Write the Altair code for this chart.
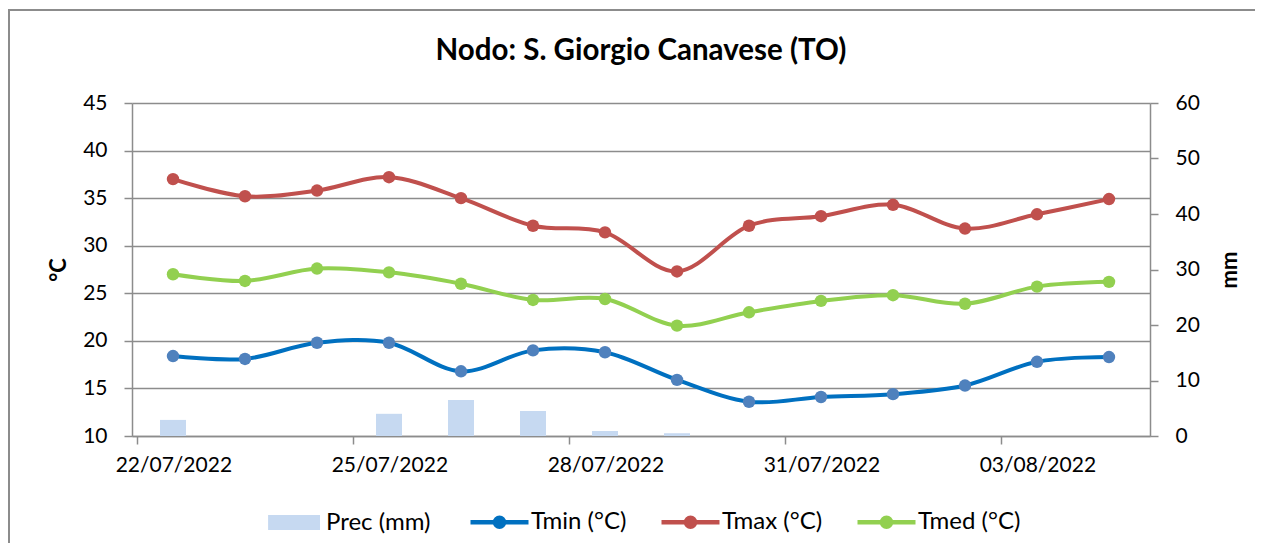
import json
import altair as alt
import pandas as pd

# ---- data ----
dates = ["22/07/2022", "23/07/2022", "24/07/2022", "25/07/2022", "26/07/2022",
         "27/07/2022", "28/07/2022", "29/07/2022", "30/07/2022", "31/07/2022",
         "01/08/2022", "02/08/2022", "03/08/2022", "04/08/2022"]
tmin = [18.4, 18.1, 19.8, 19.8, 16.8, 19.0, 18.8, 15.9, 13.6, 14.1, 14.4, 15.3, 17.8, 18.3]
tmax = [37.0, 35.2, 35.8, 37.2, 35.0, 32.1, 31.4, 27.3, 32.1, 33.1, 34.3, 31.8, 33.3, 34.9]
tmed = [27.0, 26.3, 27.6, 27.2, 26.0, 24.3, 24.4, 21.6, 23.0, 24.2, 24.8, 23.9, 25.7, 26.2]
prec = [2.9, 0, 0, 4.0, 6.5, 4.5, 0.9, 0.5, 0, 0, 0, 0, 0, 0]

prec_name = "Prec (mm)"
series_names = ["Tmin (°C)", "Tmax (°C)", "Tmed (°C)"]
left_ticks = [10, 15, 20, 25, 30, 35, 40, 45]
right_ticks = [0, 10, 20, 30, 40, 50, 60]
label_days = [0, 3, 6, 9, 12]

# ---- styles ----
line_colors = ["#0070C0", "#C0504D", "#92D050"]
marker_colors = ["#4F81BD", "#C0504D", "#92D050"]
bar_color = "#C6D9F1"
grey = "#8C8C8C"
FONT = "Lato"

W, H = 1018, 333
PAD = {"left": 124, "top": 95, "right": 105, "bottom": 107}
day_w = W / len(dates)

day = list(range(len(dates)))
bars_df = pd.DataFrame({"day": day, "date": dates, "value": prec, "series": prec_name})
temps_df = pd.concat(
    [pd.DataFrame({"day": day, "date": dates, "value": vals, "series": name})
     for name, vals in zip(series_names, [tmin, tmax, tmed])],
    ignore_index=True,
)

x_scale = alt.Scale(domain=[-0.5, len(dates) - 0.5], nice=False, zero=False)
x_axis = alt.Axis(
    values=[d - 0.5 for d in label_days],
    labelExpr=f"{json.dumps(dates)}[round(datum.value + 0.5)]",
    labelOffset=day_w / 2,
    labelFlush=False,
    labelOverlap=False,
    labelPadding=10,
    tickSize=8,
    grid=False,
    title=None,
)
left_axis = alt.Axis(
    values=left_ticks, grid=True, orient="left", tickSize=8, labelPadding=17,
    title="°C", titleFontSize=22, titleFontWeight="bold", titleAngle=270,
    titleX=-74, titleY=H / 2, titleAlign="center", titleBaseline="middle",
)
right_axis = alt.Axis(
    values=right_ticks, grid=False, orient="right", tickSize=8, labelPadding=17,
    title="mm", titleFontSize=22, titleFontWeight="bold", titleAngle=270,
    titleX=79, titleY=H / 2, titleAlign="center", titleBaseline="middle",
)

# legend symbols: slot of 58 px ([-1, 1] spans sqrt(size))
rect_path = "M-0.79,-0.26H1V0.26H-0.79Z"
line_path = ("M-1,0H1 "
             "M0.155,0A0.155,0.155,0,1,1,-0.155,0A0.155,0.155,0,1,1,0.155,0Z "
             "M0.052,0A0.052,0.052,0,1,1,-0.052,0A0.052,0.052,0,1,1,0.052,0Z")

bar_legend = alt.Legend(
    title=None, orient="none", legendX=130, legendY=390.5, direction="horizontal",
    symbolType=rect_path, symbolSize=3364, symbolStrokeWidth=0, symbolOpacity=1,
    labelOffset=6, padding=0, labelFontSize=24,
)
line_legend = alt.Legend(
    title=None, orient="none", legendX=336, legendY=387.75, direction="horizontal",
    symbolType=line_path, symbolSize=3364, symbolStrokeWidth=4.5, symbolOpacity=1,
    labelOffset=0, columnPadding=25, padding=0, labelFontSize=24,
)

frame_src = alt.Data(values=[{"k": 1}])
frame_top = alt.Chart(frame_src).mark_rule(stroke=grey, strokeWidth=2).encode(
    x=alt.value(-PAD["left"]), x2=alt.value(W + PAD["right"]), y=alt.value(-93)
)
frame_left = alt.Chart(frame_src).mark_rule(stroke=grey, strokeWidth=2).encode(
    x=alt.value(-123), y=alt.value(-94), y2=alt.value(H + PAD["bottom"])
)

bars = alt.Chart(bars_df).mark_bar(size=26).encode(
    x=alt.X("day:Q", scale=x_scale, axis=x_axis),
    y=alt.Y("value:Q", scale=alt.Scale(domain=[0, 60], nice=False, zero=True), axis=right_axis),
    fill=alt.Fill("series:N", scale=alt.Scale(domain=[prec_name], range=[bar_color]), legend=bar_legend),
)

lines = alt.Chart(temps_df).mark_line(interpolate="cardinal", strokeWidth=4).encode(
    x=alt.X("day:Q", scale=x_scale, axis=x_axis),
    y=alt.Y("value:Q", scale=alt.Scale(domain=[10, 45], nice=False, zero=False), axis=left_axis),
    stroke=alt.Stroke("series:N", scale=alt.Scale(domain=series_names, range=line_colors), legend=line_legend),
)
points = alt.Chart(temps_df).mark_point(filled=True, size=155, opacity=1).encode(
    x=alt.X("day:Q", scale=x_scale, axis=x_axis),
    y=alt.Y("value:Q"),
    color=alt.Color("series:N", scale=alt.Scale(domain=series_names, range=marker_colors), legend=None),
)

temps = alt.layer(lines, points)

chart = alt.layer(frame_top, frame_left, bars, temps).resolve_scale(y="independent").properties(
    width=W,
    height=H,
    autosize=alt.AutoSizeParams(type="none"),
    padding=PAD,
    title=alt.TitleParams(
        text="Nodo: S. Giorgio Canavese (TO)", font=FONT, fontSize=29.5, fontWeight="bold",
        color="black", anchor="middle", frame="group", offset=-81, baseline="alphabetic",
    ),
).configure_axis(
    labelFont=FONT, labelFontSize=21, labelColor="black", titleFont=FONT, titleColor="black",
    domainColor=grey, tickColor=grey, gridColor=grey, domainWidth=1.5, tickWidth=1.5, gridWidth=1.5,
).configure_legend(
    labelFont=FONT, labelFontSize=24, labelColor="black",
).configure_view(strokeWidth=0)

chart.save("out.html", embed_options={"renderer": "svg", "actions": False})
